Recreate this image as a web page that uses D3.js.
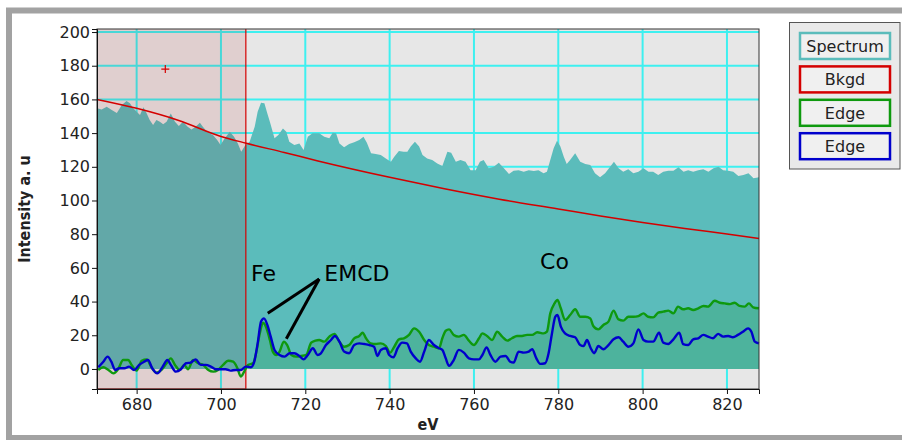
<!DOCTYPE html>
<html>
<head>
<meta charset="utf-8">
<script src="https://cdn.jsdelivr.net/npm/d3@7"></script>
<style>
    body { margin: 0; background: #fff; }
    svg { display: block; }
</style>
</head>
<body>
<div id="chart-container"></div>
<script>
// spectrum, [eV, intensity]
const spectrum = [
    [670.6,154.7],[671.7,154],[672.9,155.7],[674.1,153.7],[675.3,152],[676.5,156.7],[677.6,159],[678.4,157.7],
    [679.2,154.7],[680,152.7],[680.8,150.7],[681.6,155.3],[682.4,151.7],[683.1,147.8],[683.9,144.8],[684.7,147.8],
    [685.5,146.8],[686.3,145.2],[687.1,146.8],[688.1,151.7],[689.1,146.8],[690,144.2],[691,146.8],[692.1,143.8],
    [693,142.2],[694,143.8],[695,146.2],[695.7,143.8],[696.9,140.2],[698.1,138.9],[699.1,135.9],[699.9,132.9],
    [700.9,136.9],[702.1,140.8],[703.1,137.9],[704,133.9],[704.8,129],[705.8,132.9],[706.8,134.9],[708,143.8],
    [708.7,152.7],[709.5,158],[710.3,157.7],[711,151.7],[711.7,145.8],[712.7,136.9],[713.6,138.9],[714.7,142.8],
    [715.5,140.8],[716.2,134.9],[717.4,132.9],[718.6,133.9],[719.6,130],[720.6,137.9],[721.7,139.9],[723.3,139.9],
    [724.5,137.9],[725.7,136.9],[726.5,140.2],[727.3,139.9],[728.1,133.9],[729.2,131.6],[730.4,133.5],[731.6,134.5],
    [732.8,135.9],[733.8,137.9],[734.6,134.3],[735.6,128],[736.7,127.6],[737.9,127],[739.1,125],[740.3,123],
    [741.1,126],[742.2,129.4],[743.3,129],[744.2,129],[745,132],[746,134.9],[747,132],[747.8,127],[748.9,125],
    [750.1,124],[751.3,122],[752.5,120.5],[753.7,129],[754.6,128.4],[755.7,123],[756.8,124],[758,123],[759.2,118],
    [760.4,118],[761.4,123],[762.3,124],[763.5,119.1],[764.7,120],[765.9,122.4],[767.1,119.1],[768.3,115.7],
    [769.4,117.7],[770.6,118],[771.8,117.1],[773,118],[774.2,117.5],[775.3,118],[776.5,116.1],[777.3,117.1],
    [778.1,124],[778.9,131],[779.7,135.5],[780.5,132],[781.3,126],[782,121.7],[782.8,124],[784,128],[785.2,123],
    [786.4,121.7],[787.6,121.1],[788.7,116.1],[789.9,113.8],[791.1,116.1],[792.3,120],[793.2,123],[794.3,119.1],
    [795.4,117.1],[796.6,118.5],[797.8,116.1],[799,117.1],[800.2,119.1],[801.4,117.1],[802.5,117.1],[803.7,115.1],
    [804.9,117.1],[806.1,117.7],[807.3,117.7],[808.5,119.7],[809.7,117.1],[810.8,118],[812,117.1],[813.2,118],
    [814.4,118.5],[815.6,117.1],[816.8,119.1],[818,120],[819.1,118],[820.3,117.7],[821.5,117.1],[822.7,114.5],
    [823.9,115.1],[825.1,116.1],[826.3,113.2],[827.6,113.8]
]

// background fit (red)
const bkgd = [
    [670.6,160],[680,154.7],[690,147.5],[700,138],[706,134],[715,128.5],[723,123.5],[740,113.8],[753,107],
    [766,100.8],[780,95],[790,90.8],[800,87],[810,83.4],[820,80.1],[827.6,77.5]
]

// edge (green)
const edgeGreen = [
    [670.9,-0.6],[672.1,1],[673.3,-0.6],[674.5,-2.6],[675.6,-0.2],[676.8,5.3],[678,5.3],[678.8,2.4],[680,-1],
    [681.2,4.9],[682.4,5.7],[683.5,1],[684.7,-2.2],[685.9,-0.6],[687.1,3.4],[688.1,6.3],[689.1,2.4],[690.2,-0.6],
    [691.3,2.4],[692.2,-0.2],[693.4,5.3],[694.6,3.4],[695.8,2.4],[697,-0.6],[698.2,-1.6],[699.3,-0.6],[700.5,2.4],
    [701.7,4.9],[702.9,4.3],[703.9,0.4],[704.7,-4.5],[705.5,-1.6],[706.4,2.4],[707.6,3.4],[708.4,10.3],[709.2,21.1],
    [710,27.5],[710.8,24.1],[711.6,17.2],[712.3,10.3],[713.1,8.3],[713.9,10.3],[714.9,16.2],[715.7,14.2],[716.7,8.3],
    [717.9,7.3],[719,7.7],[720.2,8.3],[721.4,15.6],[722.4,16.8],[723.3,17.2],[724.5,16.2],[725.7,19.2],[726.9,20.8],
    [728.1,16.2],[729.2,13.2],[730.4,14.2],[731.6,18.2],[732.8,19.6],[733.6,21.5],[734.4,18.2],[735.5,15.2],
    [736.7,14.8],[737.9,15.2],[739.1,13.6],[740.1,9.7],[741.1,13.2],[742.2,17.6],[743.4,18.2],[744.6,20.2],
    [745.8,24.1],[747,22.1],[748.2,17.2],[749.3,14.2],[750.5,13.2],[751.7,12.3],[752.5,18.2],[753.3,22.7],
    [754.1,23.5],[755.2,20.2],[756.4,19.2],[757.6,20.2],[758.8,16.8],[760,14.2],[761.2,18.2],[762,21.1],
    [763.1,19.6],[764.3,17.2],[765.5,22.1],[766.7,19.2],[767.9,16.8],[769,18.2],[770.2,19.6],[771.4,19.6],
    [772.6,20.2],[773.8,20.2],[775,21.8],[776.5,21.1],[777.3,22.1],[778.1,33],[779.1,38.9],[779.8,40.9],
    [780.6,36],[781.6,29.1],[782.8,32],[784,35.4],[785.2,31],[786.4,31],[787.6,30],[788.3,25.5],[789.5,23.5],
    [790.7,26.1],[791.9,28.1],[793.1,34.6],[794.3,29.4],[795.4,28.7],[796.6,31],[797.8,31],[799,31.4],[800.2,33],
    [801.3,31],[802.5,30.6],[803.7,33.4],[804.9,34],[806.1,34.6],[807.3,33],[808.4,37],[809.6,35.4],[810.8,36],
    [812,35],[813.2,36],[814.4,37.4],[815.5,37],[817.1,40.5],[818.3,39.3],[819.5,38.9],[820.7,38.5],[821.8,39.3],
    [823,37.4],[824.2,37],[825.2,38.9],[826.2,36.6],[827.6,36]
]

// edge (blue)
const edgeBlue = [
    [670.9,1],[672.1,4.3],[673.1,7.3],[674,4.3],[674.9,-0.6],[675.9,0.4],[677.1,0.4],[678.2,1.4],[679.4,-0.6],
    [680.6,2.4],[681.8,4.3],[682.7,5.3],[683.7,0.4],[684.9,-2.6],[686.1,1],[687.3,5.3],[688.1,2.4],[689.3,-1.6],
    [690.5,-0.2],[691.7,3.4],[692.8,3.8],[694,5.7],[695.2,2.4],[696.4,2.4],[697.6,1.4],[698.8,-0.2],[700,-0.2],
    [701.1,-0.2],[702.3,-1],[703.5,-0.6],[704.7,-0.6],[705.9,1.4],[707.1,1],[707.9,4.3],[708.7,15.2],[709.5,28.1],
    [710.2,30],[711,26.1],[711.8,19.2],[712.7,11.3],[713.9,8.3],[715.1,7.3],[716.3,9.3],[717.4,9.3],[718.6,7.7],
    [719.6,5.7],[720.6,8.3],[721.8,12.3],[722.9,8.3],[723.7,9.3],[724.9,14.2],[726.1,17.2],[727,19.6],[728.1,16.2],
    [729.2,10.3],[730.4,9.3],[731.6,14.2],[732.8,15.2],[734,14.8],[735.2,14.2],[736.3,13.2],[737.1,7.7],[737.9,11.3],
    [739.1,12.3],[739.9,8.3],[740.9,6.9],[741.9,12.3],[743,15.6],[744.1,15.2],[745,10.3],[746.2,6.3],[747.2,4.3],
    [748.2,10.3],[749.3,17.2],[750.5,14.2],[751.7,12.3],[752.5,11.3],[753.3,6.3],[754.1,1.8],[755.2,5.3],
    [756.4,11.3],[757.6,9.7],[758.8,6.3],[760,5.7],[761.2,5.7],[762,8.3],[763,12.8],[763.9,8.3],[765.1,4.3],
    [766.3,7.3],[767.5,7.7],[768.6,4.3],[769.4,3.8],[770.6,10.3],[771.8,9.7],[773,10.3],[773.8,11.7],[774.8,6.3],
    [775.7,3],[776.9,3.4],[777.7,9.3],[778.5,21.1],[779.3,31],[779.8,32],[780.6,25.1],[781.6,21.1],[782.8,19.6],
    [784,18.8],[785.2,14.2],[786,13.6],[786.8,17.2],[787.7,12.3],[788.5,9.3],[789.5,13.6],[790.7,11.7],[791.9,14.2],
    [793.1,17.6],[794.3,18.8],[795.4,16.2],[796.6,13.2],[797.8,15.2],[799,23.5],[800.2,17.2],[801.3,16.2],
    [802.5,16.2],[803.9,21.5],[804.9,15.6],[806.1,14.8],[807.3,17.6],[808.7,21.5],[809.6,14.8],[810.8,14.2],
    [812,17.6],[813.2,18.2],[814.4,20.2],[815.5,19.2],[816.7,18.2],[817.9,20.8],[819.1,19.2],[820.3,19.6],
    [821.4,18.8],[822.6,20.2],[823.8,22.1],[825,24.1],[825.8,22.1],[826.6,16.2],[827.6,15.2]
]

const xTicks = [680, 700, 720, 740, 760, 780, 800, 820]
const yTicks = [0, 20, 40, 60, 80, 100, 120, 140, 160, 180, 200]
const eVRange = [670.6, 827.6]
const windowEnd = 705.9          // pre-edge window right edge (eV)
const edgeFillStart = 706        // green fill begins here
const marker = [686.8, 178]

const legendItems = [
    { label: 'Spectrum', colour: '#5bbcbb' },
    { label: 'Bkgd', colour: '#d40000' },
    { label: 'Edge', colour: '#0e990e' },
    { label: 'Edge', colour: '#0000cc' }
]

// label text, anchor position in data units
const labels = [
    { text: 'Fe', x: 710.1, y: 52.2, anchor: 'middle' },
    { text: 'EMCD', x: 724.5, y: 52.2, anchor: 'start' },
    { text: 'Co', x: 779.1, y: 59.3, anchor: 'middle' }
]
const arrows = [
    { from: [723.3, 53.4], to: [711.1, 33.1] },
    { from: [723.3, 53.4], to: [715.5, 17.9] }
]

const width = 902
const height = 440
const margin = { left: 97, top: 29, right: 143, bottom: 51 }
const plotW = width - margin.left - margin.right
const plotH = height - margin.top - margin.bottom

const svg = d3.select('#chart-container')
    .append('svg')
    .attr('width', width)
    .attr('height', height)
    .style('font-family', '"DejaVu Sans", sans-serif')

// outer frame
svg.append('rect')
    .attr('x', 9).attr('y', 10.5)
    .attr('width', 920).attr('height', 427.5)
    .attr('fill', 'none')
    .attr('stroke', '#a2a2a2')
    .attr('stroke-width', 6)

const chart = svg.append('g')
    .attr('id', 'plot-chart')
    .attr('transform', `translate(${margin.left},${margin.top})`)

const x = d3.scaleLinear().domain(eVRange).range([0, plotW])
const y = d3.scaleLinear().domain([-11.9, 201.8]).range([plotH, 0])

chart.append('rect')
    .attr('width', plotW)
    .attr('height', plotH)
    .attr('fill', '#e7e7e7')

// grid
chart.append('g')
    .selectAll('line')
    .data(xTicks)
    .join('line')
    .attr('x1', d => x(d)).attr('x2', d => x(d))
    .attr('y1', 0).attr('y2', plotH)
    .attr('stroke', '#3ef0f0')
    .attr('stroke-width', 2)

chart.append('g')
    .selectAll('line')
    .data(yTicks.filter(d => d > 0))
    .join('line')
    .attr('x1', 0).attr('x2', plotW)
    .attr('y1', d => y(d)).attr('y2', d => y(d))
    .attr('stroke', '#3ef0f0')
    .attr('stroke-width', 2)

// spectrum
chart.append('path')
    .datum(spectrum)
    .attr('fill', '#5bbcbb')
    .attr('d', d3.area().x(d => x(d[0])).y0(y(0)).y1(d => y(d[1])))

// edge fill
chart.append('path')
    .datum(edgeGreen.filter(d => d[0] >= edgeFillStart))
    .attr('fill', '#4db39d')
    .attr('d', d3.area().curve(d3.curveMonotoneX).x(d => x(d[0])).y0(y(0)).y1(d => y(d[1])))

// pre-edge window
chart.append('rect')
    .attr('x', 0).attr('y', 0)
    .attr('width', x(windowEnd))
    .attr('height', plotH)
    .attr('fill', 'rgba(166,0,0,0.1)')
chart.append('path')
    .attr('d', `M${x(windowEnd)},0V${plotH}H0`)
    .attr('fill', 'none')
    .attr('stroke', '#d40000')
    .attr('stroke-width', 1.2)

// background line
chart.append('path')
    .datum(bkgd)
    .attr('fill', 'none')
    .attr('stroke', '#d40000')
    .attr('stroke-width', 1.5)
    .attr('d', d3.line().curve(d3.curveMonotoneX).x(d => x(d[0])).y(d => y(d[1])))

const edgeLine = d3.line().curve(d3.curveMonotoneX).x(d => x(d[0])).y(d => y(d[1]))
chart.append('path')
    .datum(edgeGreen)
    .attr('fill', 'none')
    .attr('stroke', '#0e990e')
    .attr('stroke-width', 2.4)
    .attr('stroke-linejoin', 'round')
    .attr('d', edgeLine)
chart.append('path')
    .datum(edgeBlue)
    .attr('fill', 'none')
    .attr('stroke', '#0000cc')
    .attr('stroke-width', 2.4)
    .attr('stroke-linejoin', 'round')
    .attr('d', edgeLine)

// marker
chart.append('path')
    .attr('d', `M${x(marker[0]) - 4},${y(marker[1])}h8M${x(marker[0])},${y(marker[1]) - 4}v8`)
    .attr('stroke', '#d40000')
    .attr('stroke-width', 1.2)

// annotations
chart.append('g')
    .selectAll('line')
    .data(arrows)
    .join('line')
    .attr('x1', d => x(d.from[0])).attr('y1', d => y(d.from[1]))
    .attr('x2', d => x(d.to[0])).attr('y2', d => y(d.to[1]))
    .attr('stroke', '#000')
    .attr('stroke-width', 3)

chart.append('g')
    .selectAll('text')
    .data(labels)
    .join('text')
    .attr('x', d => x(d.x))
    .attr('y', d => y(d.y))
    .attr('text-anchor', d => d.anchor)
    .attr('font-size', 22)
    .attr('fill', '#000')
    .text(d => d.text)

// frame + axes
chart.append('rect')
    .attr('width', plotW)
    .attr('height', plotH)
    .attr('fill', 'none')
    .attr('stroke', '#333')
    .attr('stroke-width', 1)

const yAxis = chart.append('g')
    .call(d3.axisLeft(y).tickValues(yTicks).tickSize(5).tickPadding(2))
const xAxis = chart.append('g')
    .attr('transform', `translate(0,${plotH})`)
    .call(d3.axisBottom(x).tickValues(xTicks).tickSize(5).tickPadding(5))

for (let axis of [xAxis, yAxis]) {
    axis.select('.domain').attr('stroke', '#111')
    axis.selectAll('.tick line').attr('stroke', '#111')
    axis.selectAll('.tick text')
        .attr('fill', '#222')
        .style('font-size', '16px')
        .style('font-family', '"DejaVu Sans", sans-serif')
}

svg.append('text')
    .attr('transform', `translate(30,${margin.top + plotH / 2}) rotate(-90)`)
    .attr('text-anchor', 'middle')
    .attr('font-size', 16)
    .attr('font-weight', 'bold')
    .style('font-family', '"DejaVu Sans Condensed", "DejaVu Sans", sans-serif')
    .attr('fill', '#222')
    .text('Intensity a. u')

svg.append('text')
    .attr('x', margin.left + plotW / 2)
    .attr('y', 430)
    .attr('text-anchor', 'middle')
    .attr('font-size', 16)
    .attr('font-weight', 'bold')
    .style('font-family', '"DejaVu Sans Condensed", "DejaVu Sans", sans-serif')
    .attr('fill', '#222')
    .text('eV')

// legend
const legend = svg.append('g').attr('transform', 'translate(789.5,22.5)')
legend.append('rect')
    .attr('width', 110.5).attr('height', 146.5)
    .attr('fill', '#e9e9e9')
    .attr('stroke', '#555')
    .attr('stroke-width', 1)

const items = legend.selectAll('.legend-item')
    .data(legendItems)
    .join('g')
    .attr('class', 'legend-item')
    .attr('transform', (d, i) => `translate(10.5,${10.5 + i * 33.4})`)
items.append('rect')
    .attr('width', 90).attr('height', 26)
    .attr('fill', '#f0f0f0')
    .attr('stroke', d => d.colour)
    .attr('stroke-width', 2.5)
items.append('text')
    .attr('x', 45).attr('y', 19)
    .attr('text-anchor', 'middle')
    .attr('font-size', 16)
    .attr('fill', '#222')
    .text(d => d.label)
</script>
</body>
</html>
